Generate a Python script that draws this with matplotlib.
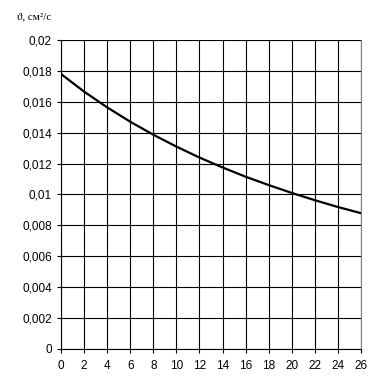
import matplotlib.pyplot as plt

plt.rcParams['font.family'] = ['Liberation Sans', 'DejaVu Sans']

# temperature, deg C
t = [0, 2, 4, 6, 8, 10, 12, 14, 16, 18, 20, 22, 24, 26]
# kinematic viscosity, cm2/s
nu = [0.0178, 0.01666, 0.01564, 0.01471, 0.01387, 0.01310, 0.01239,
      0.01175, 0.01115, 0.01061, 0.01010, 0.00963, 0.00919, 0.00879]

xticks = list(range(0, 27, 2))
yticks = [0, 0.002, 0.004, 0.006, 0.008, 0.01, 0.012, 0.014, 0.016, 0.018, 0.02]
ylabels = ['0', '0,002', '0,004', '0,006', '0,008', '0,01', '0,012',
           '0,014', '0,016', '0,018', '0,02']

fig = plt.figure(figsize=(3.85, 3.92), dpi=100)
ax = fig.add_axes([0.1584, 0.1097, 0.7793, 0.7883])

ax.plot(t, nu, color='black', lw=1.6)

ax.set_xlim(0, 26)
ax.set_ylim(0, 0.02)
ax.set_xticks(xticks)
ax.set_xticklabels([str(v) for v in xticks])
ax.set_yticks(yticks)
ax.set_yticklabels(ylabels)
ax.grid(True, color='black', lw=0.8)
ax.tick_params(labelsize=8.5, length=3, width=0.8, color='black', direction='out')
ax.tick_params(axis='x', pad=5)

ax.spines['top'].set_visible(False)
ax.spines['right'].set_color('#808080')
ax.spines['right'].set_linewidth(0.8)
ax.spines['left'].set_linewidth(0.8)
ax.spines['bottom'].set_linewidth(0.8)

fig.text(17 / 385, 1 - 17 / 392, 'ϑ, см²/с', fontsize=8,
         family=['Liberation Serif', 'DejaVu Serif'], va='center', ha='left')

fig.savefig('out.png', dpi=100)
